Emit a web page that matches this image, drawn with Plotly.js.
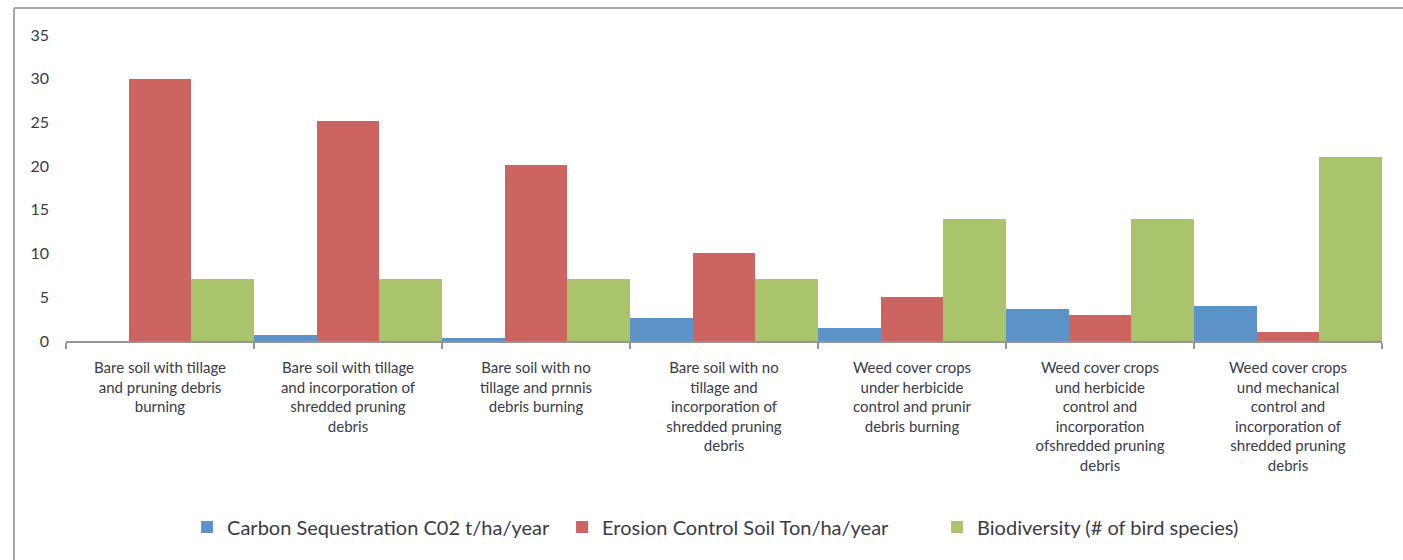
<!DOCTYPE html>
<html>
<head>
<meta charset="utf-8">
<script src="https://cdn.plot.ly/plotly-3.0.1.min.js"></script>
<style>
  html, body { margin: 0; padding: 0; background: #ffffff; overflow: hidden; }
  #chart { width: 1403px; height: 560px; }
</style>
</head>
<body>
<div id="chart"></div>
<script>
const categories = [
  "Bare soil with tillage<br>and pruning debris<br>burning",
  "Bare soil with tillage<br>and incorporation of<br>shredded pruning<br>debris",
  "Bare soil with no<br>tillage and prnnis<br>debris burning",
  "Bare soil with no<br>tillage and<br>incorporation of<br>shredded pruning<br>debris",
  "Weed cover crops<br>under herbicide<br>control and prunir<br>debris burning",
  "Weed cover crops<br>und herbicide<br>control and<br>incorporation<br>ofshredded pruning<br>debris",
  "Weed cover crops<br>und mechanical<br>control and<br>incorporation of<br>shredded pruning<br>debris"
];
const seriesNames = [
  "Carbon Sequestration C02 t/ha/year",
  "Erosion Control Soil Ton/ha/year",
  "Biodiversity (# of bird species)"
];
const carbon = [0, 0.7, 0.3, 2.6, 1.5, 3.7, 4.0];
const erosion = [30, 25.2, 20.1, 10.1, 5, 3, 1];
const biodiversity = [7.1, 7.1, 7.1, 7.1, 14, 14, 21];
const yTicks = [0, 5, 10, 15, 20, 25, 30, 35];

const colors = ["#5b93c9", "#cc6560", "#a9c46b"];
const values = [carbon, erosion, biodiversity];

const traces = values.map((v, i) => ({
  type: "bar",
  name: seriesNames[i],
  x: categories,
  y: v,
  marker: { color: colors[i], line: { width: 0 } },
  hoverinfo: "skip"
}));

const textColor = "#3a3a4a";
const frameColor = "#a6a6a6";

const layout = {
  width: 1403,
  height: 560,
  margin: { l: 66, r: 21, t: 35, b: 219, autoexpand: false },
  paper_bgcolor: "#ffffff",
  plot_bgcolor: "#ffffff",
  barmode: "group",
  bargap: 0,
  bargroupgap: 0,
  font: { family: "Lato, 'Open Sans', sans-serif", color: textColor },
  xaxis: {
    type: "category",
    showline: true,
    linecolor: "#959595",
    linewidth: 2,
    ticks: "outside",
    tickson: "boundaries",
    ticklen: 6,
    tickwidth: 1.5,
    tickcolor: "#959595",
    showgrid: false,
    zeroline: false,
    tickangle: 0,
    ticklabelstandoff: 12,
    tickfont: { size: 15, color: textColor, family: "Lato, sans-serif" },
    automargin: false
  },
  yaxis: {
    range: [0, 35],
    tickvals: yTicks,
    ticktext: yTicks.map(String),
    showgrid: false,
    zeroline: false,
    showline: false,
    ticks: "",
    ticklabelstandoff: 16,
    tickfont: { size: 16, color: textColor, family: "Lato, sans-serif" },
    automargin: false
  },
  legend: {
    orientation: "h",
    x: 0.092,
    xanchor: "left",
    y: -0.608,
    yanchor: "middle",
    font: { size: 20, color: textColor, family: "Lato, sans-serif" },
    itemwidth: 30,
    entrywidth: 330,
    entrywidthmode: "pixels",
    traceorder: "normal"
  },
  showlegend: true,
  shapes: [
    { type: "line", xref: "paper", yref: "paper", x0: -0.0395, x1: -0.0395, y0: 1.088, y1: -1.2,
      line: { color: frameColor, width: 2 } },
    { type: "line", xref: "paper", yref: "paper", x0: -0.0395, x1: 1.2, y0: 1.088, y1: 1.088,
      line: { color: frameColor, width: 2 } }
  ]
};

Plotly.newPlot("chart", traces, layout, { displayModeBar: false, staticPlot: true });
</script>
</body>
</html>
